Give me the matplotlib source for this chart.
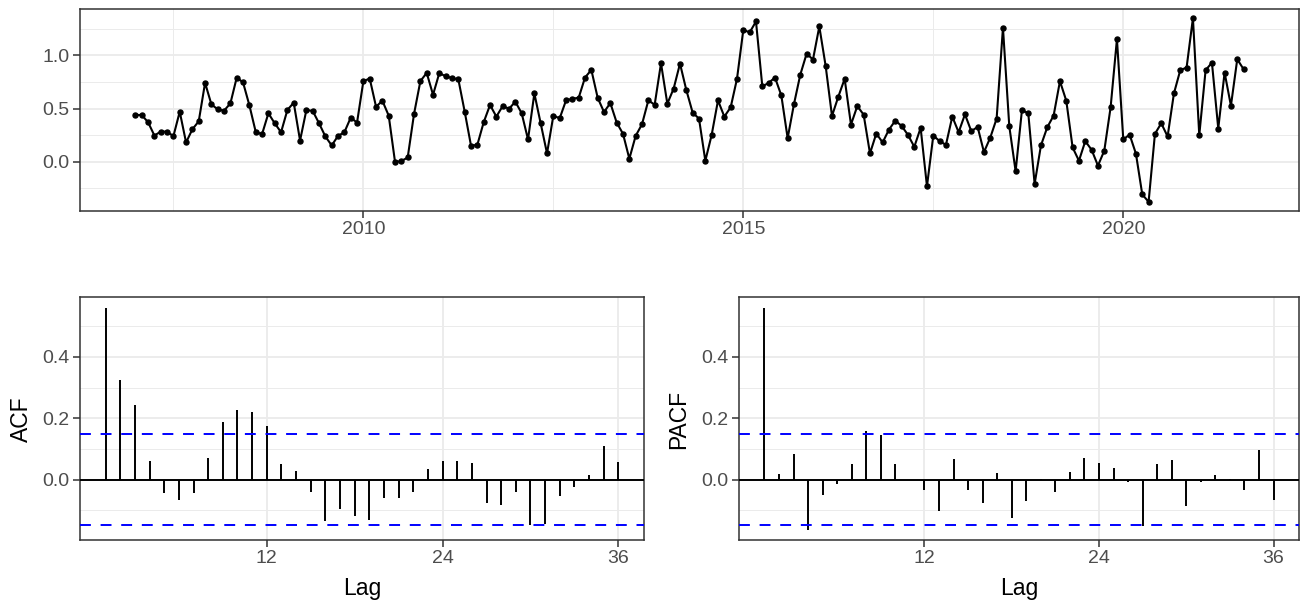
import matplotlib
matplotlib.use("Agg")
import matplotlib.pyplot as plt
import numpy as np

# ---------------- data ----------------
start_year = 2007  # monthly series starting Jan 2007
values = [
    0.439, 0.439, 0.371, 0.246, 0.283, 0.283, 0.240, 0.470, 0.181, 0.305, 0.380, 0.741,
    0.539, 0.492, 0.480, 0.548, 0.791, 0.745, 0.530, 0.280, 0.259, 0.455, 0.361, 0.277,
    0.486, 0.555, 0.199, 0.486, 0.477, 0.361, 0.237, 0.153, 0.243, 0.277, 0.414, 0.368,
    0.757, 0.782, 0.517, 0.573, 0.433, -0.003, 0.006, 0.040, 0.449, 0.757, 0.835, 0.629,
    0.835, 0.801, 0.788, 0.773, 0.470, 0.150, 0.159, 0.371, 0.533, 0.424, 0.523, 0.498,
    0.564, 0.455, 0.209, 0.642, 0.361, 0.078, 0.433, 0.408, 0.576, 0.592, 0.601, 0.791,
    0.863, 0.601, 0.467, 0.551, 0.368, 0.262, 0.028, 0.243, 0.352, 0.576, 0.536, 0.925,
    0.545, 0.688, 0.922, 0.673, 0.461, 0.405, 0.009, 0.252, 0.576, 0.424, 0.511, 0.779,
    1.240, 1.215, 1.318, 0.707, 0.741, 0.791, 0.623, 0.221, 0.542, 0.819, 1.016, 0.960,
    1.271, 0.900, 0.430, 0.611, 0.779, 0.349, 0.523, 0.442, 0.078, 0.265, 0.181, 0.302,
    0.386, 0.336, 0.252, 0.140, 0.318, -0.231, 0.246, 0.193, 0.159, 0.424, 0.277, 0.445,
    0.287, 0.327, 0.090, 0.227, 0.405, 1.259, 0.333, -0.090, 0.486, 0.455, -0.209, 0.153,
    0.324, 0.433, 0.757, 0.573, 0.134, 0.009, 0.193, 0.112, -0.037, 0.103, 0.511, 1.153,
    0.209, 0.255, 0.075, -0.308, -0.377, 0.262, 0.361, 0.237, 0.642, 0.860, 0.885, 1.349,
    0.249, 0.860, 0.931, 0.312, 0.838, 0.526, 0.963, 0.869,
]

lags = list(range(1, 37))
acf_vals = [
    0.559, 0.325, 0.244, 0.059, -0.043, -0.065, -0.045, 0.070, 0.189, 0.227, 0.219, 0.175,
    0.052, 0.027, -0.039, -0.136, -0.097, -0.119, -0.132, -0.060, -0.059, -0.039, 0.033, 0.059,
    0.062, 0.053, -0.076, -0.083, -0.041, -0.147, -0.144, -0.054, -0.024, 0.015, 0.110, 0.057,
]
pacf_vals = [
    0.559, 0.017, 0.082, -0.163, -0.050, -0.015, 0.052, 0.157, 0.146, 0.050, -0.002, -0.033,
    -0.104, 0.068, -0.035, -0.076, 0.022, -0.124, -0.070, 0.001, -0.040, 0.026, 0.071, 0.053,
    0.038, -0.008, -0.150, 0.052, 0.063, -0.087, -0.009, 0.014, 0.001, -0.035, 0.096, -0.068,
]
ci_bound = 0.148

top_xticks = [2010, 2015, 2020]
top_xticklabels = ["2010", "2015", "2020"]
top_xminor = [2007.5, 2012.5, 2017.5]
top_yticks = [0.0, 0.5, 1.0]
top_yticklabels = ["0.0", "0.5", "1.0"]
top_yminor = [-0.25, 0.25, 0.75, 1.25]
lag_ticks = [12, 24, 36]
lag_ticklabels = ["12", "24", "36"]
cf_yticks = [0.0, 0.2, 0.4]
cf_yticklabels = ["0.0", "0.2", "0.4"]
cf_yminor = [-0.1, 0.1, 0.3, 0.5]

# ---------------- figure ----------------
plt.rcParams['font.family'] = ['Liberation Sans', 'DejaVu Sans']

W, H = 1304, 601
fig = plt.figure(figsize=(W / 100, H / 100), dpi=100)
fig.patch.set_facecolor('white')


def ax_px(l, t, r, b):
    return fig.add_axes([l / W, 1 - b / H, (r - l) / W, (b - t) / H])


def style(ax):
    ax.set_facecolor('white')
    for s in ax.spines.values():
        s.set_color('#333333')
        s.set_linewidth(1.1)
    ax.tick_params(axis='both', which='major', length=4.8, width=1.1, color='#333333',
                   labelcolor='#4D4D4D', labelsize=14)
    ax.tick_params(axis='x', which='major', pad=2.5)
    ax.tick_params(axis='y', which='major', pad=3)
    ax.tick_params(axis='both', which='minor', length=0)
    ax.grid(which='major', color='#EBEBEB', linewidth=1.3)
    ax.grid(which='minor', color='#EBEBEB', linewidth=0.7)
    ax.set_axisbelow(True)


def expand(lo, hi, m=0.05):
    d = (hi - lo) * m
    return lo - d, hi + d


ax_top = ax_px(80, 9, 1299, 211)
ax_acf = ax_px(80, 297, 644, 540)
ax_pacf = ax_px(739, 297, 1299, 540)

# --- top time series ---
x = start_year + np.arange(len(values)) / 12.0
style(ax_top)
ax_top.plot(x, values, color='black', linewidth=1.5, marker='o', markersize=3.6, zorder=3)
ax_top.set_xlim(*expand(x.min(), x.max()))
ax_top.set_ylim(*expand(min(values), max(values)))
ax_top.set_xticks(top_xticks)
ax_top.set_xticklabels(top_xticklabels)
ax_top.set_xticks(top_xminor, minor=True)
ax_top.set_yticks(top_yticks)
ax_top.set_yticklabels(top_yticklabels)
ax_top.set_yticks(top_yminor, minor=True)

# --- ACF / PACF ---
for ax, vals, lab, lx in [(ax_acf, acf_vals, 'ACF', 21), (ax_pacf, pacf_vals, 'PACF', 679)]:
    style(ax)
    ax.grid(which='minor', axis='x', visible=False)
    ax.vlines(lags, 0, vals, color='black', linewidth=1.4, zorder=3)
    ax.axhline(0, color='black', linewidth=1.4, zorder=3)
    for c in (ci_bound, -ci_bound):
        ax.axhline(c, color='#0000FF', linewidth=1.4, linestyle=(0, (5.6, 5.0)), zorder=4)
    ax.set_xlim(*expand(min(lags), max(lags)))
    ax.set_ylim(-0.197, 0.595)
    ax.set_xticks(lag_ticks)
    ax.set_xticklabels(lag_ticklabels)
    ax.set_yticks(cf_yticks)
    ax.set_yticklabels(cf_yticklabels)
    ax.set_yticks(cf_yminor, minor=True)
    fig.text(lx / W, 1 - 419 / H, lab, rotation=90, ha='center', va='center',
             fontsize=16.5, color='black')

fig.text(362 / W, 1 - 595 / H, 'Lag', ha='center', va='baseline', fontsize=16.5, color='black')
fig.text(1019 / W, 1 - 595 / H, 'Lag', ha='center', va='baseline', fontsize=16.5, color='black')

fig.savefig('out.png', dpi=100, facecolor='white')
